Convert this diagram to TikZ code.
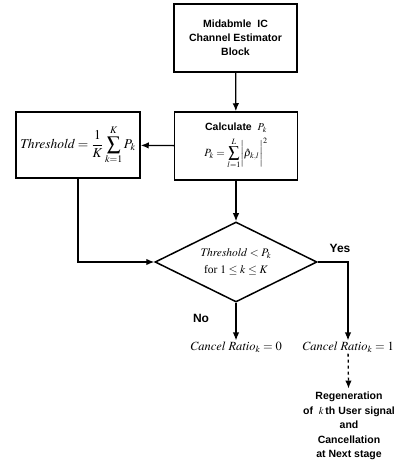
\documentclass[tikz,border=0pt]{standalone}
\usepackage{mathptmx}
\usepackage[no-math]{fontspec}
\setmainfont{Liberation Serif}
\newfontfamily\boxfont{Liberation Sans}
\usetikzlibrary{arrows.meta,shapes.geometric}
\tikzset{
  flow/.style={line width=1.3pt,-{Latex[length=8pt,width=6.5pt]}},
  block/.style={draw,line width=1.5pt,rectangle,minimum width=123pt,minimum height=68pt,
    align=center,font=\boxfont\bfseries\fontsize{10.5}{14}\selectfont},
  test/.style={draw,line width=1.5pt,diamond,aspect=2,inner sep=0pt,
    minimum width=162pt,minimum height=80pt,align=center,font=\fontsize{11.5}{17}\selectfont},
  result/.style={font=\fontsize{12.5}{14}\selectfont,inner sep=1pt},
  tag/.style={font=\boxfont\bfseries\fontsize{12}{13}\selectfont}
}
\begin{document}
\begin{tikzpicture}[x=1pt,y=-1pt]
\useasboundingbox (0,0) rectangle (411,473);
% boxes
\node[block] (est) at (235.5,38) {Midabmle\ \ IC\\Channel Estimator\\Block};
\node[block] (calc) at (236,146) {Calculate\ \ $P_k$\\[5pt]
  \fontsize{11}{13}\selectfont$\displaystyle P_k=\sum_{l=1}^{L}\biggl|\hat{\rho}_{k,l}\biggr|^2$};
\node[block,minimum width=124pt,minimum height=66pt] (thr) at (78,145)
  {\fontsize{13.5}{15}\selectfont$\displaystyle \mathit{Threshold}=\frac{1}{K}\sum_{k=1}^{K}P_k$};
\node[test] (dec) at (236,262) {$\mathit{Threshold}<P_k$\\for $1\le k\le K$};
% outcomes
\node[result] (c0) at (236,347) {$\mathit{Cancel\ Ratio}_k=0$};
\node[result] (c1) at (348,347) {$\mathit{Cancel\ Ratio}_k=1$};
\coordinate (yesturn) at (348,262);
\node[tag] (yes) at (340,248) {Yes};
\node[tag] (no) at (201,318) {No};
\node[align=center,font=\boxfont\bfseries\fontsize{10.5}{14.5}\selectfont] (regen) at (349,426)
  {Regeneration\\of\ \ $k$\,th User signal\\and\\Cancellation\\at Next stage};
% connectors
\draw[flow] (est) -- (calc);
\draw[flow] (calc) -- (thr);
\draw[flow] (calc) -- (dec);
\draw[flow] (thr.south) |- (dec.west);
\draw[flow] (dec.south) -- (c0);
\draw[flow] (dec.east) -- (yesturn) -- (c1);
\draw[flow,dashed] (c1) -- (regen);
\end{tikzpicture}
\end{document}
